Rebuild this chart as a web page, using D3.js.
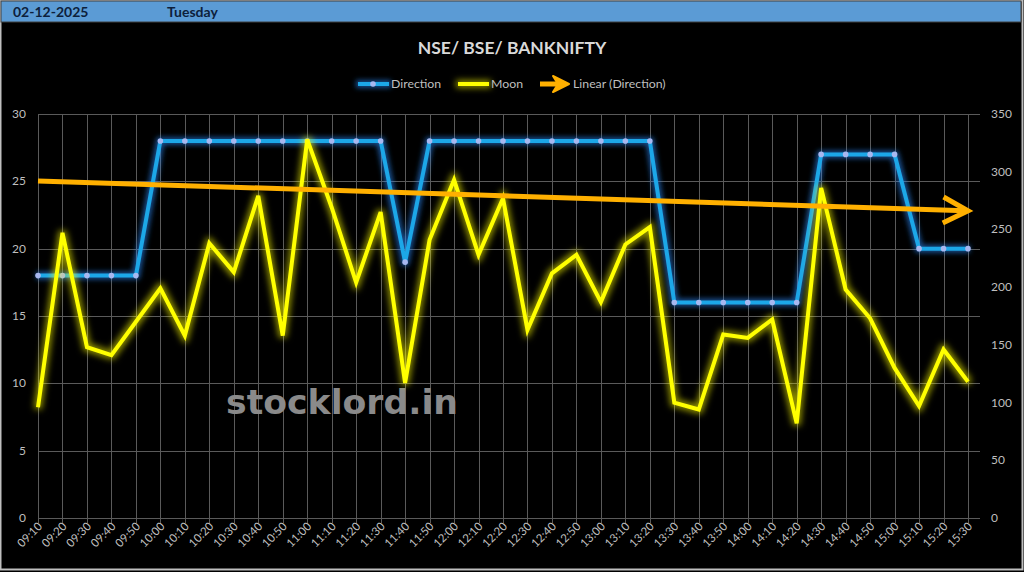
<!DOCTYPE html>
<html><head><meta charset="utf-8">
<script src="https://cdn.jsdelivr.net/npm/d3@7"></script>
<style>html,body{margin:0;padding:0;background:#000;}svg{display:block;}</style>
</head><body>
<svg id="c" width="1024" height="572"></svg>
<script>
const categories = ["09:10","09:20","09:30","09:40","09:50","10:00","10:10","10:20","10:30","10:40","10:50","11:00","11:10","11:20","11:30","11:40","11:50","12:00","12:10","12:20","12:30","12:40","12:50","13:00","13:10","13:20","13:30","13:40","13:50","14:00","14:10","14:20","14:30","14:40","14:50","15:00","15:10","15:20","15:30"];
const direction = [18,18,18,18,18,28,28,28,28,28,28,28,28,28,28,19,28,28,28,28,28,28,28,28,28,28,16,16,16,16,16,16,27,27,27,27,20,20,20];
const moon = [96,247,148,141,170,199,158,238,213,279,158,328,269,204,265,117,241,293,228,277,163,212,228,187,237,252,100,94,159,156,172,82,286,198,173,130,97,146,118];
const leftTicks = [0,5,10,15,20,25,30];
const rightTicks = [0,50,100,150,200,250,300,350];
const headerDate = "02-12-2025";
const headerDay = "Tuesday";
const title = "NSE/ BSE/ BANKNIFTY";
const legendNames = ["Direction","Moon","Linear (Direction)"];
const watermark = "stocklord.in";

const svg = d3.select("#c");
const F = "Lato, 'Open Sans', sans-serif";
const L = 38, R = 968, T = 114, B = 518;
const x = d3.scalePoint().domain(categories).range([L, R]);
const yL = d3.scaleLinear().domain([0,30]).range([B, T]);
const yR = d3.scaleLinear().domain([0,350]).range([B, T]);

const defs = svg.append("defs");
function glow(id, color, dev, op){
  const f = defs.append("filter").attr("id", id).attr("filterUnits","userSpaceOnUse").attr("x",0).attr("y",0).attr("width",1024).attr("height",572);
  f.append("feMorphology").attr("in","SourceAlpha").attr("operator","dilate").attr("radius",1.5).attr("result","d");
  f.append("feGaussianBlur").attr("in","d").attr("stdDeviation",dev).attr("result","b");
  f.append("feFlood").attr("flood-color",color).attr("flood-opacity",op);
  f.append("feComposite").attr("in2","b").attr("operator","in").attr("result","g");
  const m = f.append("feMerge");
  m.append("feMergeNode").attr("in","g");
  m.append("feMergeNode").attr("in","SourceGraphic");
}
glow("gy","#ffff00",3,0.55);
glow("gb","#2a8cff",2.5,0.55);

// background & frame
svg.append("rect").attr("x",0).attr("y",0).attr("width",1024).attr("height",572).attr("fill","#000");
svg.append("rect").attr("x",0.5).attr("y",0.5).attr("width",1022).attr("height",569).attr("fill","none").attr("stroke","#bfbfbf").attr("stroke-width",2);
// header bar
svg.append("rect").attr("x",1).attr("y",1).attr("width",1020).attr("height",21).attr("fill","#5b9bd5").attr("stroke","#404040").attr("stroke-width",1);
svg.append("text").attr("x",13).attr("y",17).attr("font-family",F).attr("font-weight","bold").attr("font-size",14).attr("fill","#0d1f3c").text(headerDate);
svg.append("text").attr("x",167).attr("y",17).attr("font-family",F).attr("font-weight","bold").attr("font-size",14).attr("fill","#0d1f3c").text(headerDay);

// title
svg.append("text").attr("x",512).attr("y",54).attr("text-anchor","middle").attr("font-family",F).attr("font-weight","bold").attr("font-size",17.5).attr("fill","#d9d9d9").text(title);

// gridlines
const grid = svg.append("g").attr("stroke","#5a5a5a").attr("stroke-width",1);
leftTicks.forEach(t => grid.append("line").attr("x1",L).attr("x2",980).attr("y1",Math.round(yL(t))+0.5).attr("y2",Math.round(yL(t))+0.5));
categories.forEach(c => grid.append("line").attr("x1",Math.round(x(c))+0.5).attr("x2",Math.round(x(c))+0.5).attr("y1",T).attr("y2",B+5));
grid.append("line").attr("x1",R+0.5).attr("x2",R+0.5).attr("y1",T).attr("y2",B);

// axes labels
const gl = svg.append("g").attr("font-family",F).attr("font-size",12).attr("fill","#bfbfbf");
leftTicks.forEach(t => gl.append("text").attr("x",26).attr("y",yL(t)+4).attr("text-anchor","end").text(t));
rightTicks.forEach(t => gl.append("text").attr("x",991).attr("y",yR(t)+4).attr("text-anchor","start").text(t));
categories.forEach(c => gl.append("text").attr("transform",`translate(${x(c)+5},${B+9}) rotate(-45)`).attr("text-anchor","end").attr("font-size",11.5).text(c));

// watermark
svg.append("text").attr("x",226).attr("y",414).attr("font-family","'DejaVu Sans', sans-serif").attr("font-weight","bold").attr("font-size",33).attr("textLength",232).attr("lengthAdjust","spacingAndGlyphs").attr("fill","#8a8a8a").text(watermark);

// Direction line
svg.append("path").datum(direction).attr("fill","none").attr("stroke","#1ea7e8").attr("stroke-width",4).attr("stroke-linejoin","round").attr("filter","url(#gb)")
  .attr("d", d3.line().x((d,i)=>x(categories[i])).y(d=>yL(d)));
svg.append("g").selectAll("circle").data(direction).join("circle").attr("cx",(d,i)=>x(categories[i])).attr("cy",d=>yL(d)).attr("r",2.8).attr("fill","#a8b8f0");

// Moon line
svg.append("path").datum(moon).attr("fill","none").attr("stroke","#ffff00").attr("stroke-width",4).attr("stroke-linejoin","miter").attr("filter","url(#gy)")
  .attr("d", d3.line().x((d,i)=>x(categories[i])).y(d=>yR(d)));

// Linear trend of Direction (least squares)
const n = direction.length;
const mx = d3.mean(direction,(d,i)=>i), my = d3.mean(direction);
const sxy = d3.sum(direction,(d,i)=>(i-mx)*(d-my)), sxx = d3.sum(direction,(d,i)=>(i-mx)*(i-mx));
const slope = sxy/sxx, icpt = my - slope*mx;
const x0 = x(categories[0]), y0 = yL(icpt), x1 = x(categories[n-1]), y1 = yL(icpt + slope*(n-1));
const tc = "#ffb000";
svg.append("line").attr("x1",x0).attr("y1",y0).attr("x2",x1-3).attr("y2",y1).attr("stroke",tc).attr("stroke-width",5);
const ang = Math.atan2(y1-y0, x1-x0);
const ah = 28, aw = 0.48;
svg.append("polyline").attr("fill","none").attr("stroke",tc).attr("stroke-width",5).attr("stroke-linejoin","miter")
  .attr("points",[[x1-ah*Math.cos(ang-aw),y1-ah*Math.sin(ang-aw)],[x1,y1],[x1-ah*Math.cos(ang+aw),y1-ah*Math.sin(ang+aw)]].map(p=>p.join(",")).join(" "));

// legend
const lg = svg.append("g").attr("font-family",F).attr("font-size",12.3).attr("fill","#bfbfbf");
const ly = 84;
lg.append("line").attr("x1",358).attr("x2",389).attr("y1",ly).attr("y2",ly).attr("stroke","#1ea7e8").attr("stroke-width",4).attr("filter","url(#gb)");
lg.append("circle").attr("cx",373).attr("cy",ly).attr("r",2.8).attr("fill","#a8b8f0");
lg.append("text").attr("x",391).attr("y",ly+4).text(legendNames[0]);
lg.append("line").attr("x1",458).attr("x2",489).attr("y1",ly).attr("y2",ly).attr("stroke","#ffff00").attr("stroke-width",4).attr("filter","url(#gy)");
lg.append("text").attr("x",491).attr("y",ly+4).text(legendNames[1]);
lg.append("line").attr("x1",540).attr("x2",565).attr("y1",ly).attr("y2",ly).attr("stroke",tc).attr("stroke-width",5);
lg.append("path").attr("d",`M553,${ly-8} L569,${ly} L553,${ly+8} L558,${ly} Z`).attr("fill",tc).attr("stroke",tc).attr("stroke-width",2).attr("stroke-linejoin","round");
lg.append("text").attr("x",573).attr("y",ly+4).text(legendNames[2]);
</script>
</body></html>
